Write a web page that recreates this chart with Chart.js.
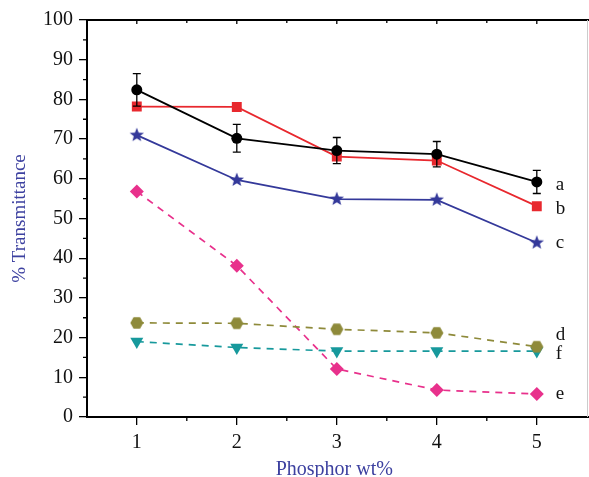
<!DOCTYPE html>
<html>
<head>
<meta charset="utf-8">
<script src="https://cdn.jsdelivr.net/npm/chart.js@4.4.1/dist/chart.umd.min.js"></script>
<style>
  html, body { margin: 0; padding: 0; background: #fff; overflow: hidden; }
  #wrap { width: 589px; height: 477px; }
</style>
</head>
<body>
<div id="wrap"><canvas id="chart"></canvas></div>
<script>
// valeurs
const phosphor = [1, 2, 3, 4, 5];
const seriesA = [82.4, 70.2, 67.1, 66.2, 59.2];
const errorA = [4.1, 3.5, 3.3, 3.2, 2.9];
const seriesB = [78.2, 78.1, 65.6, 64.6, 53.1];
const seriesC = [71.0, 59.7, 54.9, 54.7, 43.9];
const seriesD = [23.7, 23.6, 22.1, 21.2, 17.7];
const seriesE = [56.8, 38.1, 12.1, 6.8, 5.8];
const seriesF = [19.0, 17.5, 16.6, 16.6, 16.6];
const seriesNames = ["a", "b", "c", "d", "e", "f"];
const yTicks = [0, 10, 20, 30, 40, 50, 60, 70, 80, 90, 100];

const serif = "'Liberation Serif', 'DejaVu Serif', serif";
const titleBlue = "#3d41a0";

// petits marqueurs dessinés à la main
function marker(size, color, draw) {
  const c = document.createElement("canvas");
  c.width = size; c.height = size;
  const g = c.getContext("2d");
  g.fillStyle = color;
  g.beginPath();
  draw(g, size / 2);
  g.closePath();
  g.fill();
  return c;
}
function polygon(g, r, n, rOuter, rInner, start) {
  const steps = rInner ? n * 2 : n;
  for (let i = 0; i < steps; i++) {
    const rr = rInner && i % 2 ? rInner : rOuter;
    const a = start + i * Math.PI * 2 / steps;
    const x = r + rr * Math.cos(a), y = r + rr * Math.sin(a);
    if (i === 0) g.moveTo(x, y); else g.lineTo(x, y);
  }
}
const starBlue = marker(16, "#34399a", (g, r) => polygon(g, r, 5, 7.5, 3.2, -Math.PI / 2));
const hexOlive = marker(14, "#8e8a3a", (g, r) => polygon(g, r, 6, 6.5, 0, 0));

function pts(values) {
  return values.map((v, i) => ({ x: phosphor[i], y: v }));
}

const errorBars = {
  id: "errorBars",
  afterDatasetsDraw(chart) {
    const { ctx, scales: { x, y } } = chart;
    ctx.save();
    ctx.strokeStyle = "#000";
    ctx.lineWidth = 1.3;
    seriesA.forEach((v, i) => {
      const px = x.getPixelForValue(phosphor[i]);
      const top = y.getPixelForValue(v + errorA[i]);
      const bot = y.getPixelForValue(v - errorA[i]);
      ctx.beginPath();
      ctx.moveTo(px, top); ctx.lineTo(px, bot);
      ctx.moveTo(px - 4, top); ctx.lineTo(px + 4, top);
      ctx.moveTo(px - 4, bot); ctx.lineTo(px + 4, bot);
      ctx.stroke();
    });
    ctx.restore();
  }
};

const frame = {
  id: "frame",
  afterDraw(chart) {
    const { ctx, chartArea: a, scales: { x, y } } = chart;
    const w = chart.width;
    ctx.save();
    ctx.strokeStyle = "#000";
    ctx.lineWidth = 1.3;
    ctx.beginPath();
    // petites graduations
    for (let v = 1.5; v < 5.5; v += 1) {
      const px = x.getPixelForValue(v);
      ctx.moveTo(px, a.bottom); ctx.lineTo(px, a.bottom + 4);
      ctx.moveTo(px, a.top); ctx.lineTo(px, a.top + 3);
    }
    for (let v = 5; v < 100; v += 10) {
      const py = y.getPixelForValue(v);
      ctx.moveTo(a.left, py); ctx.lineTo(a.left - 4, py);
    }
    phosphor.forEach(v => {
      const px = x.getPixelForValue(v);
      ctx.moveTo(px, a.top); ctx.lineTo(px, a.top + 4);
    });
    ctx.stroke();
    ctx.lineWidth = 2;
    ctx.beginPath();
    ctx.moveTo(a.left, a.top); ctx.lineTo(w, a.top);
    ctx.moveTo(a.right - 1, a.bottom); ctx.lineTo(w, a.bottom);
    ctx.stroke();
    ctx.strokeStyle = "#ccc";
    ctx.lineWidth = 1;
    ctx.beginPath();
    ctx.moveTo(w - 1.5, a.top); ctx.lineTo(w - 1.5, a.bottom);
    ctx.stroke();

    // lettres des courbes
    const offsets = [3, 3, 0, -12, 0, 3];
    ctx.fillStyle = "#111";
    ctx.font = "19px " + serif;
    ctx.textBaseline = "middle";
    chart.data.datasets.forEach((ds, i) => {
      const last = ds.data[ds.data.length - 1];
      const px = x.getPixelForValue(last.x) + 19;
      const py = y.getPixelForValue(last.y) + offsets[i];
      ctx.fillText(seriesNames[i], px, py);
    });
    ctx.restore();
  }
};

const solid = (label, data, color, style, radius) => ({
  label, data: pts(data), borderColor: color, backgroundColor: color,
  borderWidth: 1.8, pointStyle: style, pointRadius: radius, pointBorderWidth: 0,
  tension: 0
});
const dashed = (label, data, color, style, radius, rot) => ({
  label, data: pts(data), borderColor: color, backgroundColor: color,
  borderWidth: 1.7, borderDash: [7, 6], pointStyle: style, pointRadius: radius,
  pointRotation: rot || 0, pointBorderWidth: 0, tension: 0
});

const ctx = document.getElementById("chart").getContext("2d");
const myChart = new Chart(ctx, {
  type: "line",
  data: {
    datasets: [
      solid("a", seriesA, "#000000", "circle", 5.5),
      solid("b", seriesB, "#e8282e", "rect", 7),
      solid("c", seriesC, "#34399a", starBlue, 7),
      dashed("d", seriesD, "#8e8a3a", hexOlive, 6),
      dashed("e", seriesE, "#e8318c", "rectRot", 7),
      dashed("f", seriesF, "#17999c", "triangle", 7.5, 180),
    ],
  },
  options: {
    responsive: true,
    maintainAspectRatio: false,
    animation: false,
    layout: { padding: { top: 20, right: 1, left: 0, bottom: 0 } },
    plugins: { legend: { display: false }, tooltip: { enabled: false } },
    scales: {
      x: {
        type: "linear", min: 0.502, max: 5.447,
        afterBuildTicks: s => { s.ticks = phosphor.map(v => ({ value: v })); },
        afterFit: s => { s.height = 60; s.paddingLeft = 0; s.paddingRight = 0; },
        grid: { drawOnChartArea: false, drawTicks: true, tickLength: 8, color: "#000", lineWidth: 1.3 },
        border: { display: true, color: "#000", width: 2 },
        ticks: { color: "#111", font: { family: serif, size: 20 }, padding: 6 },
        title: { display: true, text: "Phosphor wt%", color: titleBlue, font: { family: serif, size: 20 }, padding: { top: 0, bottom: -5 } },
      },
      y: {
        min: 0, max: 100,
        afterBuildTicks: s => { s.ticks = yTicks.map(v => ({ value: v })); },
        afterFit: s => { s.width = 87; s.paddingTop = 0; s.paddingBottom = 0; },
        grid: { drawOnChartArea: false, drawTicks: true, tickLength: 8, color: "#000", lineWidth: 1.3 },
        border: { display: true, color: "#000", width: 2 },
        ticks: { color: "#111", font: { family: serif, size: 20 }, padding: 6 },
        title: { display: true, text: "% Transmittance", color: titleBlue, font: { family: serif, size: 19 }, padding: { top: 9, bottom: 0 } },
      },
    },
  },
  plugins: [errorBars, frame],
});
</script>
</body>
</html>
